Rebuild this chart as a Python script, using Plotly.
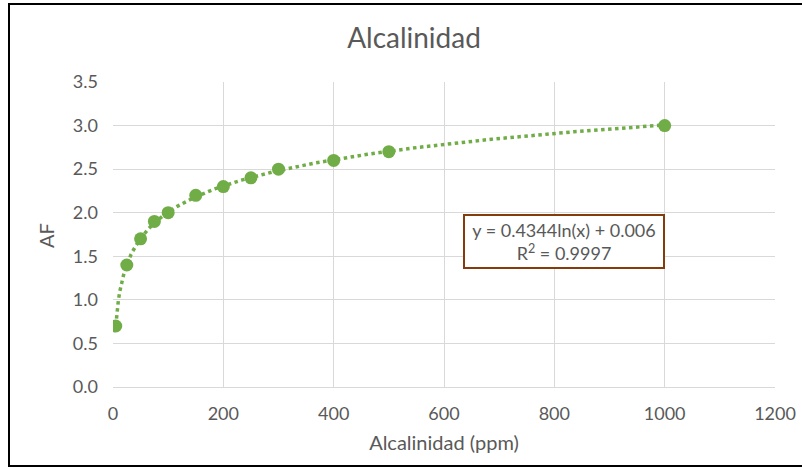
import numpy as np
import plotly.graph_objects as go

# Measured alkalinity (ppm) and the corresponding AF factor
alcalinidad_ppm = [5, 25, 50, 75, 100, 150, 200, 250, 300, 400, 500, 1000]
af = [0.7, 1.4, 1.7, 1.9, 2.0, 2.2, 2.3, 2.4, 2.5, 2.6, 2.7, 3.0]

# Logarithmic trendline coefficients: y = a ln(x) + b
coef_a = 0.4344
coef_b = 0.006
r2 = 0.9997

x_ticks = [0, 200, 400, 600, 800, 1000, 1200]
y_ticks = [0.0, 0.5, 1.0, 1.5, 2.0, 2.5, 3.0, 3.5]

GREEN = "#70AD47"
TEXT = "#595959"
GRID = "#D9D9D9"
FONT = "Lato, Carlito, Calibri, sans-serif"

x_fit = np.linspace(min(alcalinidad_ppm), max(alcalinidad_ppm), 400)
y_fit = coef_a * np.log(x_fit) + coef_b

fig = go.Figure()
fig.add_trace(go.Scatter(
    x=x_fit, y=y_fit, mode="lines",
    line=dict(color=GREEN, width=3.5, dash="dot"),
    hoverinfo="skip", showlegend=False,
))
fig.add_trace(go.Scatter(
    x=alcalinidad_ppm, y=af, mode="markers",
    marker=dict(color=GREEN, size=13),
    showlegend=False,
))

fig.update_layout(
    width=802, height=468,
    margin=dict(l=113, r=27, t=82, b=81),
    paper_bgcolor="white", plot_bgcolor="white",
    font=dict(family=FONT, color=TEXT, size=18),
    title=dict(text="Alcalinidad", x=414 / 802, xanchor="center",
               y=1 - 38 / 468, yanchor="middle",
               font=dict(size=28, color=TEXT, family=FONT)),
    xaxis=dict(
        range=[0, 1200], tickvals=x_ticks,
        ticktext=[str(v) for v in x_ticks],
        showgrid=True, gridcolor=GRID, gridwidth=1,
        zeroline=False, showline=True, linecolor=GRID, linewidth=1,
        ticks="", ticklabelstandoff=10, automargin=False,
        title=dict(text="Alcalinidad (ppm)", standoff=13,
                   font=dict(size=20, color=TEXT)),
        tickfont=dict(size=18, color=TEXT),
    ),
    yaxis=dict(
        range=[0, 3.5], tickvals=y_ticks,
        ticktext=[f"{v:.1f}" for v in y_ticks],
        showgrid=True, gridcolor=GRID, gridwidth=1,
        zeroline=False, showline=False,
        ticks="", ticklabelstandoff=14, automargin=False,
        tickfont=dict(size=18, color=TEXT),
    ),
    annotations=[
        # y-axis title, placed close to the tick labels
        dict(
            text="AF", xref="paper", yref="paper",
            x=(46 - 113) / 662, y=(387 - 236) / 305,
            xanchor="center", yanchor="middle", showarrow=False,
            textangle=-90, font=dict(size=20, color=TEXT, family=FONT),
        ),
        # trendline equation box
        dict(
            text=f"y = {coef_a}ln(x) + {coef_b}<br>R<sup>2</sup> = {r2}",
            xref="paper", yref="paper",
            x=(564 - 113) / 662, y=(387 - 241.5) / 305,
            xanchor="center", yanchor="middle", showarrow=False,
            align="center",
            font=dict(size=18, color=TEXT, family=FONT),
            bordercolor="#843C0C", borderwidth=2, borderpad=3,
            bgcolor="white", width=192,
        ),
    ],
    shapes=[dict(
        type="rect", xref="paper", yref="paper",
        x0=(9 - 113) / 662, x1=(840 - 113) / 662,
        y0=(387 - 466) / 305, y1=(387 - 4) / 305,
        line=dict(color="black", width=2), layer="below",
    )],
)

fig.write_html("out.html")
